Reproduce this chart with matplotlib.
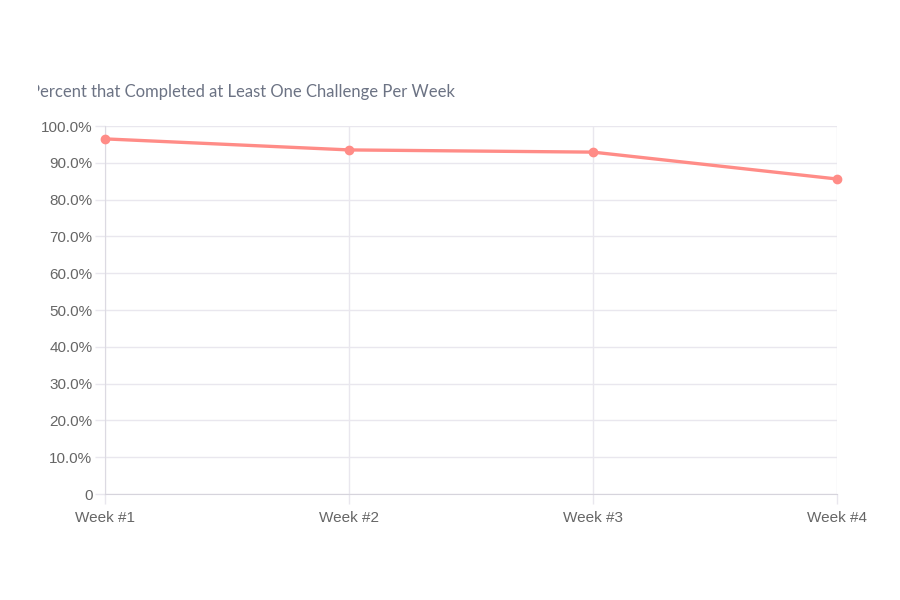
import matplotlib
matplotlib.use("Agg")
import matplotlib.pyplot as plt
from matplotlib.patches import Rectangle
from matplotlib.ticker import FuncFormatter

weeks = ["Week #1", "Week #2", "Week #3", "Week #4"]
pct = [96.5, 93.5, 92.9, 85.6]
title = "Percent that Completed at Least One Challenge Per Week"

grid_c = "#e9e7ee"
tick_c = "#666666"

fig = plt.figure(figsize=(9, 6), dpi=100)
ax = fig.add_axes([105/900, 1-494/600, (837-105)/900, (494-126)/600])

x = list(range(len(weeks)))
ax.plot(x, pct, color="#ff8c87", lw=2.4, marker="o", ms=6, mec="#ff8c87",
        mfc="#ff8c87", solid_capstyle="round", zorder=3, clip_on=False)

ax.set_xlim(0, len(weeks) - 1)
ax.set_ylim(0, 100)
ax.set_xticks(x)
ax.set_xticklabels(weeks)
ax.set_yticks(range(0, 101, 10))
ax.yaxis.set_major_formatter(FuncFormatter(lambda v, p: "0" if v == 0 else "%.1f%%" % v))

ax.grid(True, color=grid_c, lw=1)
ax.set_axisbelow(True)
for s in ["top", "right"]:
    ax.spines[s].set_visible(False)
ax.spines["left"].set_color("#dcdae2")
ax.spines["bottom"].set_color("#d6d4dc")
ax.tick_params(axis="both", colors=grid_c, length=7, width=1, labelcolor=tick_c,
               labelsize=11)
ax.tick_params(axis="y", pad=2)
ax.tick_params(axis="x", pad=5)
for lab in ax.get_xticklabels() + ax.get_yticklabels():
    lab.set_family(["Liberation Sans", "DejaVu Sans"])

t = fig.text(30/900, 1-92/600, title, fontsize=12, color="#6c7384",
             family=["Lato", "DejaVu Sans"], va="center", ha="left")
clip = Rectangle((38/900, 0), 1, 1, transform=fig.transFigure, visible=False)
fig.add_artist(clip)
t.set_clip_path(clip)

fig.savefig("out.png", dpi=100, facecolor="white")
